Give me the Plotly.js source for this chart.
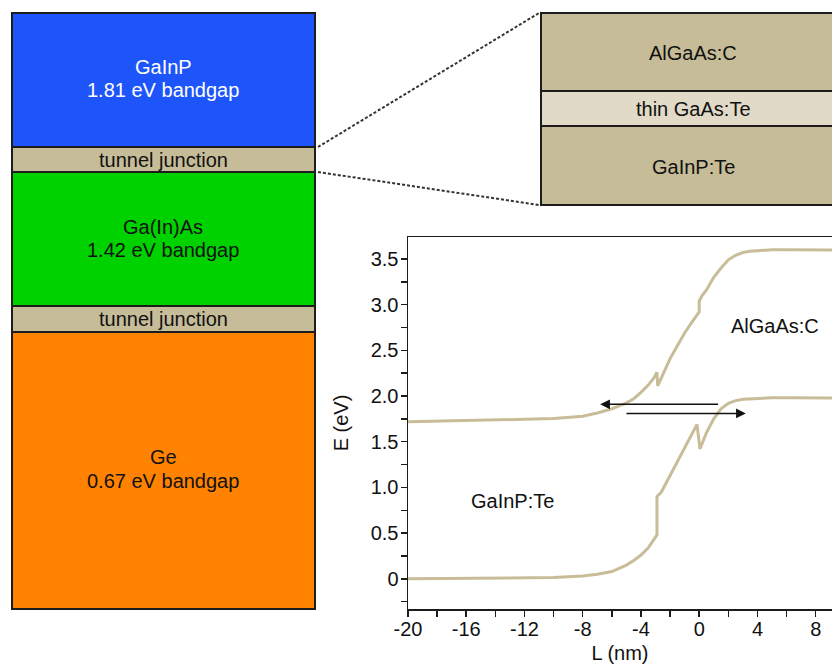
<!DOCTYPE html>
<html>
<head>
<meta charset="utf-8">
<script src="https://cdn.plot.ly/plotly-3.0.1.min.js"></script>
<style>
  html, body { margin: 0; padding: 0; background: #ffffff; overflow: hidden; }
  #chart { width: 832px; height: 666px; }
</style>
</head>
<body>
<div id="chart"></div>
<script>
// Band edge profiles across the tunnel junction (L in nm, E in eV)
const upperL = [-20, -16, -12, -10, -8, -7, -6, -5, -4.5, -4, -3.5, -3.1, -2.9, -2.85, -2.5, -2, -1.5, -1, -0.5, -0.1, 0, 0, 0.2, 0.5, 1, 1.5, 2, 2.5, 3, 3.5, 4, 5, 6, 8, 10, 12];
const upperE = [1.72, 1.73, 1.745, 1.755, 1.78, 1.815, 1.86, 1.925, 1.97, 2.04, 2.12, 2.20, 2.26, 2.11, 2.24, 2.41, 2.55, 2.69, 2.81, 2.90, 2.92, 3.04, 3.10, 3.16, 3.30, 3.40, 3.49, 3.54, 3.57, 3.585, 3.59, 3.60, 3.60, 3.60, 3.595, 3.595];

const lowerL = [-20, -16, -12, -10, -8, -7, -6, -5, -4.5, -4, -3.5, -3.2, -2.9, -2.9, -2.6, -2, -1.5, -1, -0.5, -0.15, 0.05, 0.5, 1, 1.5, 2, 2.5, 3, 4, 5, 6, 8, 10, 12];
const lowerE = [0.0, 0.005, 0.01, 0.015, 0.03, 0.05, 0.08, 0.15, 0.20, 0.26, 0.34, 0.41, 0.48, 0.90, 0.95, 1.13, 1.28, 1.43, 1.58, 1.69, 1.42, 1.60, 1.75, 1.86, 1.92, 1.95, 1.965, 1.975, 1.98, 1.98, 1.98, 1.975, 1.975];

// Carrier transport arrows: tail and head positions (nm) at an energy (eV)
const arrowTailL = [1.4, -5.1];
const arrowHeadL = [-6.8, 3.2];
const arrowE = [1.91, 1.81];

// Axis ticks
const xTickVals = [-20, -16, -12, -8, -4, 0, 4, 8];
const xTickText = ['-20', '-16', '-12', '-8', '-4', '0', '4', '8'];
const yTickVals = [0, 0.5, 1.0, 1.5, 2.0, 2.5, 3.0, 3.5];
const yTickText = ['0', '0.5', '1.0', '1.5', '2.0', '2.5', '3.0', '3.5'];

// Region labels inside the band diagram
const regionText = ['AlGaAs:C', 'GaInP:Te'];
const regionL = [5.2, -12.8];
const regionE = [2.77, 0.85];

// Triple-junction cell stack, top to bottom
const stackNames = ['GaInP', 'tunnel junction', 'Ga(In)As', 'tunnel junction', 'Ge'];
const stackGaps = ['1.81 eV bandgap', '', '1.42 eV bandgap', '', '0.67 eV bandgap'];

// Enlarged tunnel junction layers, top to bottom
const tjLayers = ['AlGaAs:C', 'thin GaAs:Te', 'GaInP:Te'];

// ---- layout helpers (pixel -> paper) ----
const W = 832, H = 666;
const px = x => x / W;
const py = y => 1 - y / H;

const FONT = 'Liberation Sans, Arial, Helvetica, sans-serif';
const FS = 20;
const TAN = '#c6bc98';
const LIGHT = '#e0dac6';
const EDGE = '#1c1c1c';
const CURVE = '#c8bd98';

const stackRows = [
  { y0: 13, y1: 147, fill: '#1e55fb', txt: '#ffffff', lines: [67, 90] },
  { y0: 147, y1: 172, fill: TAN, txt: '#111111', lines: [160] },
  { y0: 172, y1: 306, fill: '#00d200', txt: '#111111', lines: [227, 250] },
  { y0: 306, y1: 332, fill: TAN, txt: '#111111', lines: [319] },
  { y0: 332, y1: 609, fill: '#ff8200', txt: '#111111', lines: [457, 481] }
];
const tjRows = [
  { y0: 13, y1: 91, fill: TAN, ty: 53 },
  { y0: 91, y1: 126, fill: LIGHT, ty: 109 },
  { y0: 126, y1: 205, fill: TAN, ty: 167 }
];

const shapes = [];
const annotations = [];

stackRows.forEach((r, i) => {
  shapes.push({
    type: 'rect', xref: 'paper', yref: 'paper',
    x0: px(12), x1: px(315), y0: py(r.y1), y1: py(r.y0),
    fillcolor: r.fill, line: { color: EDGE, width: 2 }
  });
  const texts = stackGaps[i] ? [stackNames[i], stackGaps[i]] : [stackNames[i]];
  texts.forEach((t, k) => {
    annotations.push({
      xref: 'paper', yref: 'paper', x: px(163), y: py(r.lines[k]),
      text: t, showarrow: false, xanchor: 'center', yanchor: 'middle',
      font: { family: FONT, size: FS, color: r.txt }
    });
  });
});

tjRows.forEach((r, i) => {
  shapes.push({
    type: 'rect', xref: 'paper', yref: 'paper',
    x0: px(541), x1: px(860), y0: py(r.y1), y1: py(r.y0),
    fillcolor: r.fill, line: { color: EDGE, width: 2 }
  });
  annotations.push({
    xref: 'paper', yref: 'paper', x: px(693), y: py(r.ty),
    text: tjLayers[i], showarrow: false, xanchor: 'center', yanchor: 'middle',
    font: { family: FONT, size: FS, color: '#111111' }
  });
});

// dashed zoom lines from the upper tunnel junction to its enlargement
shapes.push({ type: 'line', xref: 'paper', yref: 'paper',
  x0: px(318), y0: py(147), x1: px(539), y1: py(13),
  line: { color: '#333333', width: 2, dash: '3px,2px' } });
shapes.push({ type: 'line', xref: 'paper', yref: 'paper',
  x0: px(318), y0: py(172), x1: px(539), y1: py(205),
  line: { color: '#333333', width: 2, dash: '3px,2px' } });

// region labels
regionText.forEach((t, i) => {
  annotations.push({
    xref: 'x', yref: 'y', x: regionL[i], y: regionE[i], text: t,
    showarrow: false, xanchor: 'center', yanchor: 'middle',
    font: { family: FONT, size: FS, color: '#111111' }
  });
});

// transport arrows
arrowHeadL.forEach((h, i) => {
  annotations.push({
    xref: 'x', yref: 'y', axref: 'x', ayref: 'y',
    x: h, y: arrowE[i], ax: arrowTailL[i], ay: arrowE[i],
    text: '', showarrow: true, arrowhead: 2, arrowsize: 1.3,
    arrowwidth: 1.5, arrowcolor: '#111111', standoff: 0, startstandoff: 0
  });
});

const traces = [
  { x: upperL, y: upperE, type: 'scatter', mode: 'lines',
    line: { color: CURVE, width: 3 }, hoverinfo: 'skip', showlegend: false },
  { x: lowerL, y: lowerE, type: 'scatter', mode: 'lines',
    line: { color: CURVE, width: 3 }, hoverinfo: 'skip', showlegend: false }
];

const layout = {
  width: W, height: H,
  margin: { l: 0, r: 0, t: 0, b: 0, pad: 0 },
  paper_bgcolor: '#ffffff', plot_bgcolor: '#ffffff',
  showlegend: false,
  font: { family: FONT, size: FS, color: '#111111' },
  xaxis: {
    domain: [px(408), 1],
    range: [-20, 9.12],
    showgrid: false, zeroline: false,
    showline: true, mirror: true, linecolor: EDGE, linewidth: 1.5,
    ticks: 'outside', ticklen: 6, tickwidth: 1.5, tickcolor: EDGE,
    tickvals: xTickVals, ticktext: xTickText,
    ticklabelstandoff: -5,
    minor: { tick0: 0, dtick: 2, ticks: 'outside', ticklen: 6, tickwidth: 1.5, tickcolor: EDGE },
    tickfont: { family: FONT, size: FS, color: '#111111' },
    title: { text: 'L (nm)', standoff: 7, font: { family: FONT, size: FS, color: '#111111' } },
    automargin: false
  },
  yaxis: {
    domain: [py(609), py(237)],
    range: [-0.33, 3.74],
    showgrid: false, zeroline: false,
    showline: true, mirror: false, linecolor: EDGE, linewidth: 1.5,
    ticks: 'outside', ticklen: 6, tickwidth: 1.5, tickcolor: EDGE,
    tickvals: yTickVals, ticktext: yTickText,
    ticklabelstandoff: -2,
    minor: { tick0: 0, dtick: 0.25, ticks: 'outside', ticklen: 6, tickwidth: 1.5, tickcolor: EDGE },
    tickfont: { family: FONT, size: FS, color: '#111111' },
    title: { text: 'E (eV)', standoff: 16, font: { family: FONT, size: FS, color: '#111111' } },
    automargin: false
  },
  shapes: shapes,
  annotations: annotations
};

Plotly.newPlot('chart', traces, layout, { displayModeBar: false, staticPlot: true });
</script>
</body>
</html>
